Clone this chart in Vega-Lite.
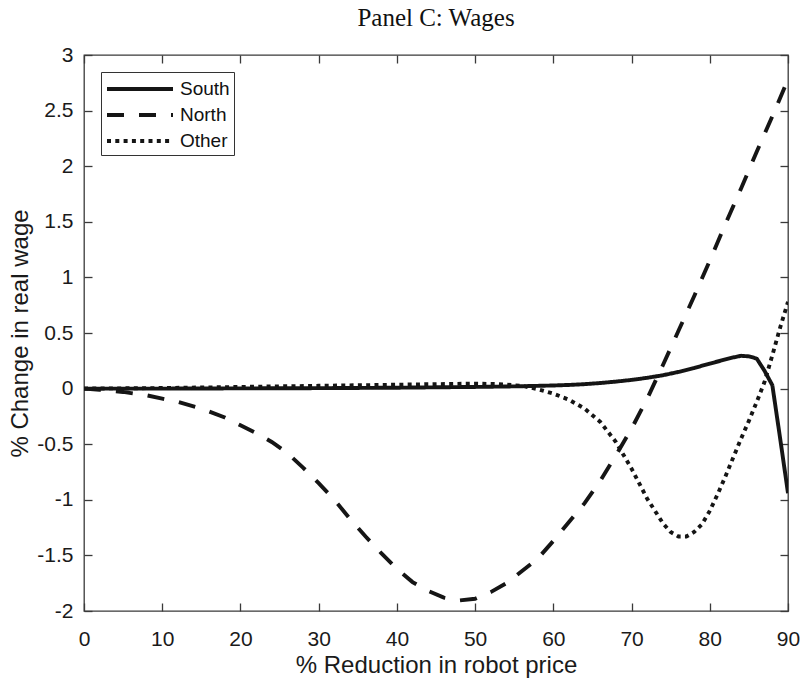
{
  "$schema": "https://vega.github.io/schema/vega-lite/v6.json",
  "width": 704,
  "height": 556,
  "autosize": {"type": "none"},
  "padding": {"left": 84, "top": 55, "right": 16, "bottom": 69},
  "background": "white",
  "title": {"text": "Panel C: Wages", "font": "Liberation Serif", "fontSize": 25, "fontWeight": "normal", "color": "#111", "anchor": "middle", "offset": 13},
  "config": {
    "view": {"stroke": "#3a3a3a", "strokeWidth": 1.3},
    "axis": {"domain": false, "grid": false, "tickColor": "#3a3a3a", "tickSize": -8, "tickWidth": 1.3,
      "labelFont": "Liberation Sans", "labelFontSize": 21, "labelColor": "#1a1a1a",
      "titleFont": "Liberation Sans", "titleFontSize": 24, "titleFontWeight": "normal", "titleColor": "#1a1a1a"}
  },
  "data": {"values": [
    {"x":0,"y":0,"s":"South"},{"x":10,"y":0,"s":"South"},{"x":20,"y":0.002,"s":"South"},{"x":30,"y":0.004,"s":"South"},{"x":40,"y":0.008,"s":"South"},{"x":50,"y":0.015,"s":"South"},{"x":55,"y":0.02,"s":"South"},{"x":60,"y":0.028,"s":"South"},{"x":62,"y":0.033,"s":"South"},{"x":64,"y":0.04,"s":"South"},{"x":66,"y":0.05,"s":"South"},{"x":68,"y":0.063,"s":"South"},{"x":70,"y":0.078,"s":"South"},{"x":72,"y":0.097,"s":"South"},{"x":74,"y":0.12,"s":"South"},{"x":76,"y":0.15,"s":"South"},{"x":78,"y":0.185,"s":"South"},{"x":80,"y":0.225,"s":"South"},{"x":82,"y":0.262,"s":"South"},{"x":83,"y":0.28,"s":"South"},{"x":84,"y":0.295,"s":"South"},{"x":85,"y":0.29,"s":"South"},{"x":86,"y":0.27,"s":"South"},{"x":87,"y":0.16,"s":"South"},{"x":88,"y":0.03,"s":"South"},{"x":89,"y":-0.45,"s":"South"},{"x":90,"y":-0.94,"s":"South"},
    {"x":0,"y":0,"s":"North"},{"x":2,"y":-0.01,"s":"North"},{"x":5,"y":-0.03,"s":"North"},{"x":8,"y":-0.06,"s":"North"},{"x":10,"y":-0.09,"s":"North"},{"x":12,"y":-0.12,"s":"North"},{"x":15,"y":-0.18,"s":"North"},{"x":18,"y":-0.26,"s":"North"},{"x":20,"y":-0.33,"s":"North"},{"x":22,"y":-0.4,"s":"North"},{"x":24,"y":-0.48,"s":"North"},{"x":26,"y":-0.58,"s":"North"},{"x":28,"y":-0.71,"s":"North"},{"x":30,"y":-0.85,"s":"North"},{"x":32,"y":-1.0,"s":"North"},{"x":34,"y":-1.17,"s":"North"},{"x":36,"y":-1.33,"s":"North"},{"x":38,"y":-1.48,"s":"North"},{"x":40,"y":-1.62,"s":"North"},{"x":42,"y":-1.74,"s":"North"},{"x":44,"y":-1.82,"s":"North"},{"x":46,"y":-1.88,"s":"North"},{"x":48,"y":-1.905,"s":"North"},{"x":50,"y":-1.89,"s":"North"},{"x":52,"y":-1.83,"s":"North"},{"x":54,"y":-1.75,"s":"North"},{"x":56,"y":-1.64,"s":"North"},{"x":58,"y":-1.53,"s":"North"},{"x":60,"y":-1.37,"s":"North"},{"x":62,"y":-1.2,"s":"North"},{"x":64,"y":-1.03,"s":"North"},{"x":66,"y":-0.83,"s":"North"},{"x":68,"y":-0.6,"s":"North"},{"x":70,"y":-0.36,"s":"North"},{"x":72,"y":-0.09,"s":"North"},{"x":74,"y":0.21,"s":"North"},{"x":76,"y":0.52,"s":"North"},{"x":78,"y":0.83,"s":"North"},{"x":80,"y":1.15,"s":"North"},{"x":82,"y":1.48,"s":"North"},{"x":84,"y":1.8,"s":"North"},{"x":86,"y":2.13,"s":"North"},{"x":88,"y":2.45,"s":"North"},{"x":90,"y":2.78,"s":"North"},
    {"x":0,"y":0,"s":"Other"},{"x":10,"y":0.005,"s":"Other"},{"x":20,"y":0.015,"s":"Other"},{"x":30,"y":0.025,"s":"Other"},{"x":40,"y":0.035,"s":"Other"},{"x":45,"y":0.04,"s":"Other"},{"x":50,"y":0.045,"s":"Other"},{"x":53,"y":0.04,"s":"Other"},{"x":56,"y":0.025,"s":"Other"},{"x":58,"y":-0.005,"s":"Other"},{"x":60,"y":-0.045,"s":"Other"},{"x":62,"y":-0.1,"s":"Other"},{"x":64,"y":-0.18,"s":"Other"},{"x":66,"y":-0.3,"s":"Other"},{"x":68,"y":-0.48,"s":"Other"},{"x":70,"y":-0.72,"s":"Other"},{"x":72,"y":-0.99,"s":"Other"},{"x":74,"y":-1.21,"s":"Other"},{"x":75,"y":-1.29,"s":"Other"},{"x":76,"y":-1.33,"s":"Other"},{"x":77,"y":-1.33,"s":"Other"},{"x":78,"y":-1.29,"s":"Other"},{"x":79,"y":-1.22,"s":"Other"},{"x":80,"y":-1.1,"s":"Other"},{"x":81,"y":-0.95,"s":"Other"},{"x":82,"y":-0.79,"s":"Other"},{"x":83,"y":-0.62,"s":"Other"},{"x":84,"y":-0.45,"s":"Other"},{"x":85,"y":-0.29,"s":"Other"},{"x":86,"y":-0.12,"s":"Other"},{"x":87,"y":0.06,"s":"Other"},{"x":88,"y":0.3,"s":"Other"},{"x":89,"y":0.55,"s":"Other"},{"x":90,"y":0.78,"s":"Other"}
  ]},
  "layer": [
    {
      "mark": {"type": "line", "color": "#151515", "strokeWidth": 3.9, "strokeCap": "butt", "clip": true},
      "encoding": {
        "x": {"field": "x", "type": "quantitative", "scale": {"domain": [0, 90], "nice": false},
          "axis": {"orient": "bottom", "title": "% Reduction in robot price", "values": [0,10,20,30,40,50,60,70,80,90], "labelPadding": 25, "titlePadding": 4, "labelFlush": false}},
        "y": {"field": "y", "type": "quantitative", "scale": {"domain": [-2, 3], "nice": false, "zero": false},
          "axis": {"orient": "left", "title": "% Change in real wage", "values": [-2,-1.5,-1,-0.5,0,0.5,1,1.5,2,2.5,3], "labelExpr": "'' + datum.value", "labelPadding": 19, "titlePadding": 4, "labelFlush": false}},
        "strokeDash": {"field": "s", "type": "nominal",
          "scale": {"domain": ["South", "North", "Other"], "range": [[1, 0], [17, 15], [4, 4.3]]},
          "legend": {"title": null, "orient": "top-left", "offset": 17, "symbolType": "M-1,0H5", "symbolSize": 484, "symbolStrokeWidth": 3.9, "symbolStrokeColor": "#151515",
            "labelFont": "Liberation Sans", "labelFontSize": 19, "labelColor": "#111", "strokeColor": "#333", "fillColor": "white", "padding": 4, "rowPadding": 3, "labelOffset": 49}}
      }
    },
    {
      "mark": {"type": "point", "opacity": 0},
      "encoding": {
        "x": {"field": "x", "type": "quantitative", "scale": {"domain": [0, 90], "nice": false},
          "axis": {"orient": "top", "title": null, "labels": false, "values": [0,10,20,30,40,50,60,70,80,90]}},
        "y": {"field": "y", "type": "quantitative", "scale": {"domain": [-2, 3], "nice": false, "zero": false},
          "axis": {"orient": "right", "title": null, "labels": false, "values": [-2,-1.5,-1,-0.5,0,0.5,1,1.5,2,2.5,3]}}
      }
    }
  ],
  "resolve": {"axis": {"x": "independent", "y": "independent"}}
}
